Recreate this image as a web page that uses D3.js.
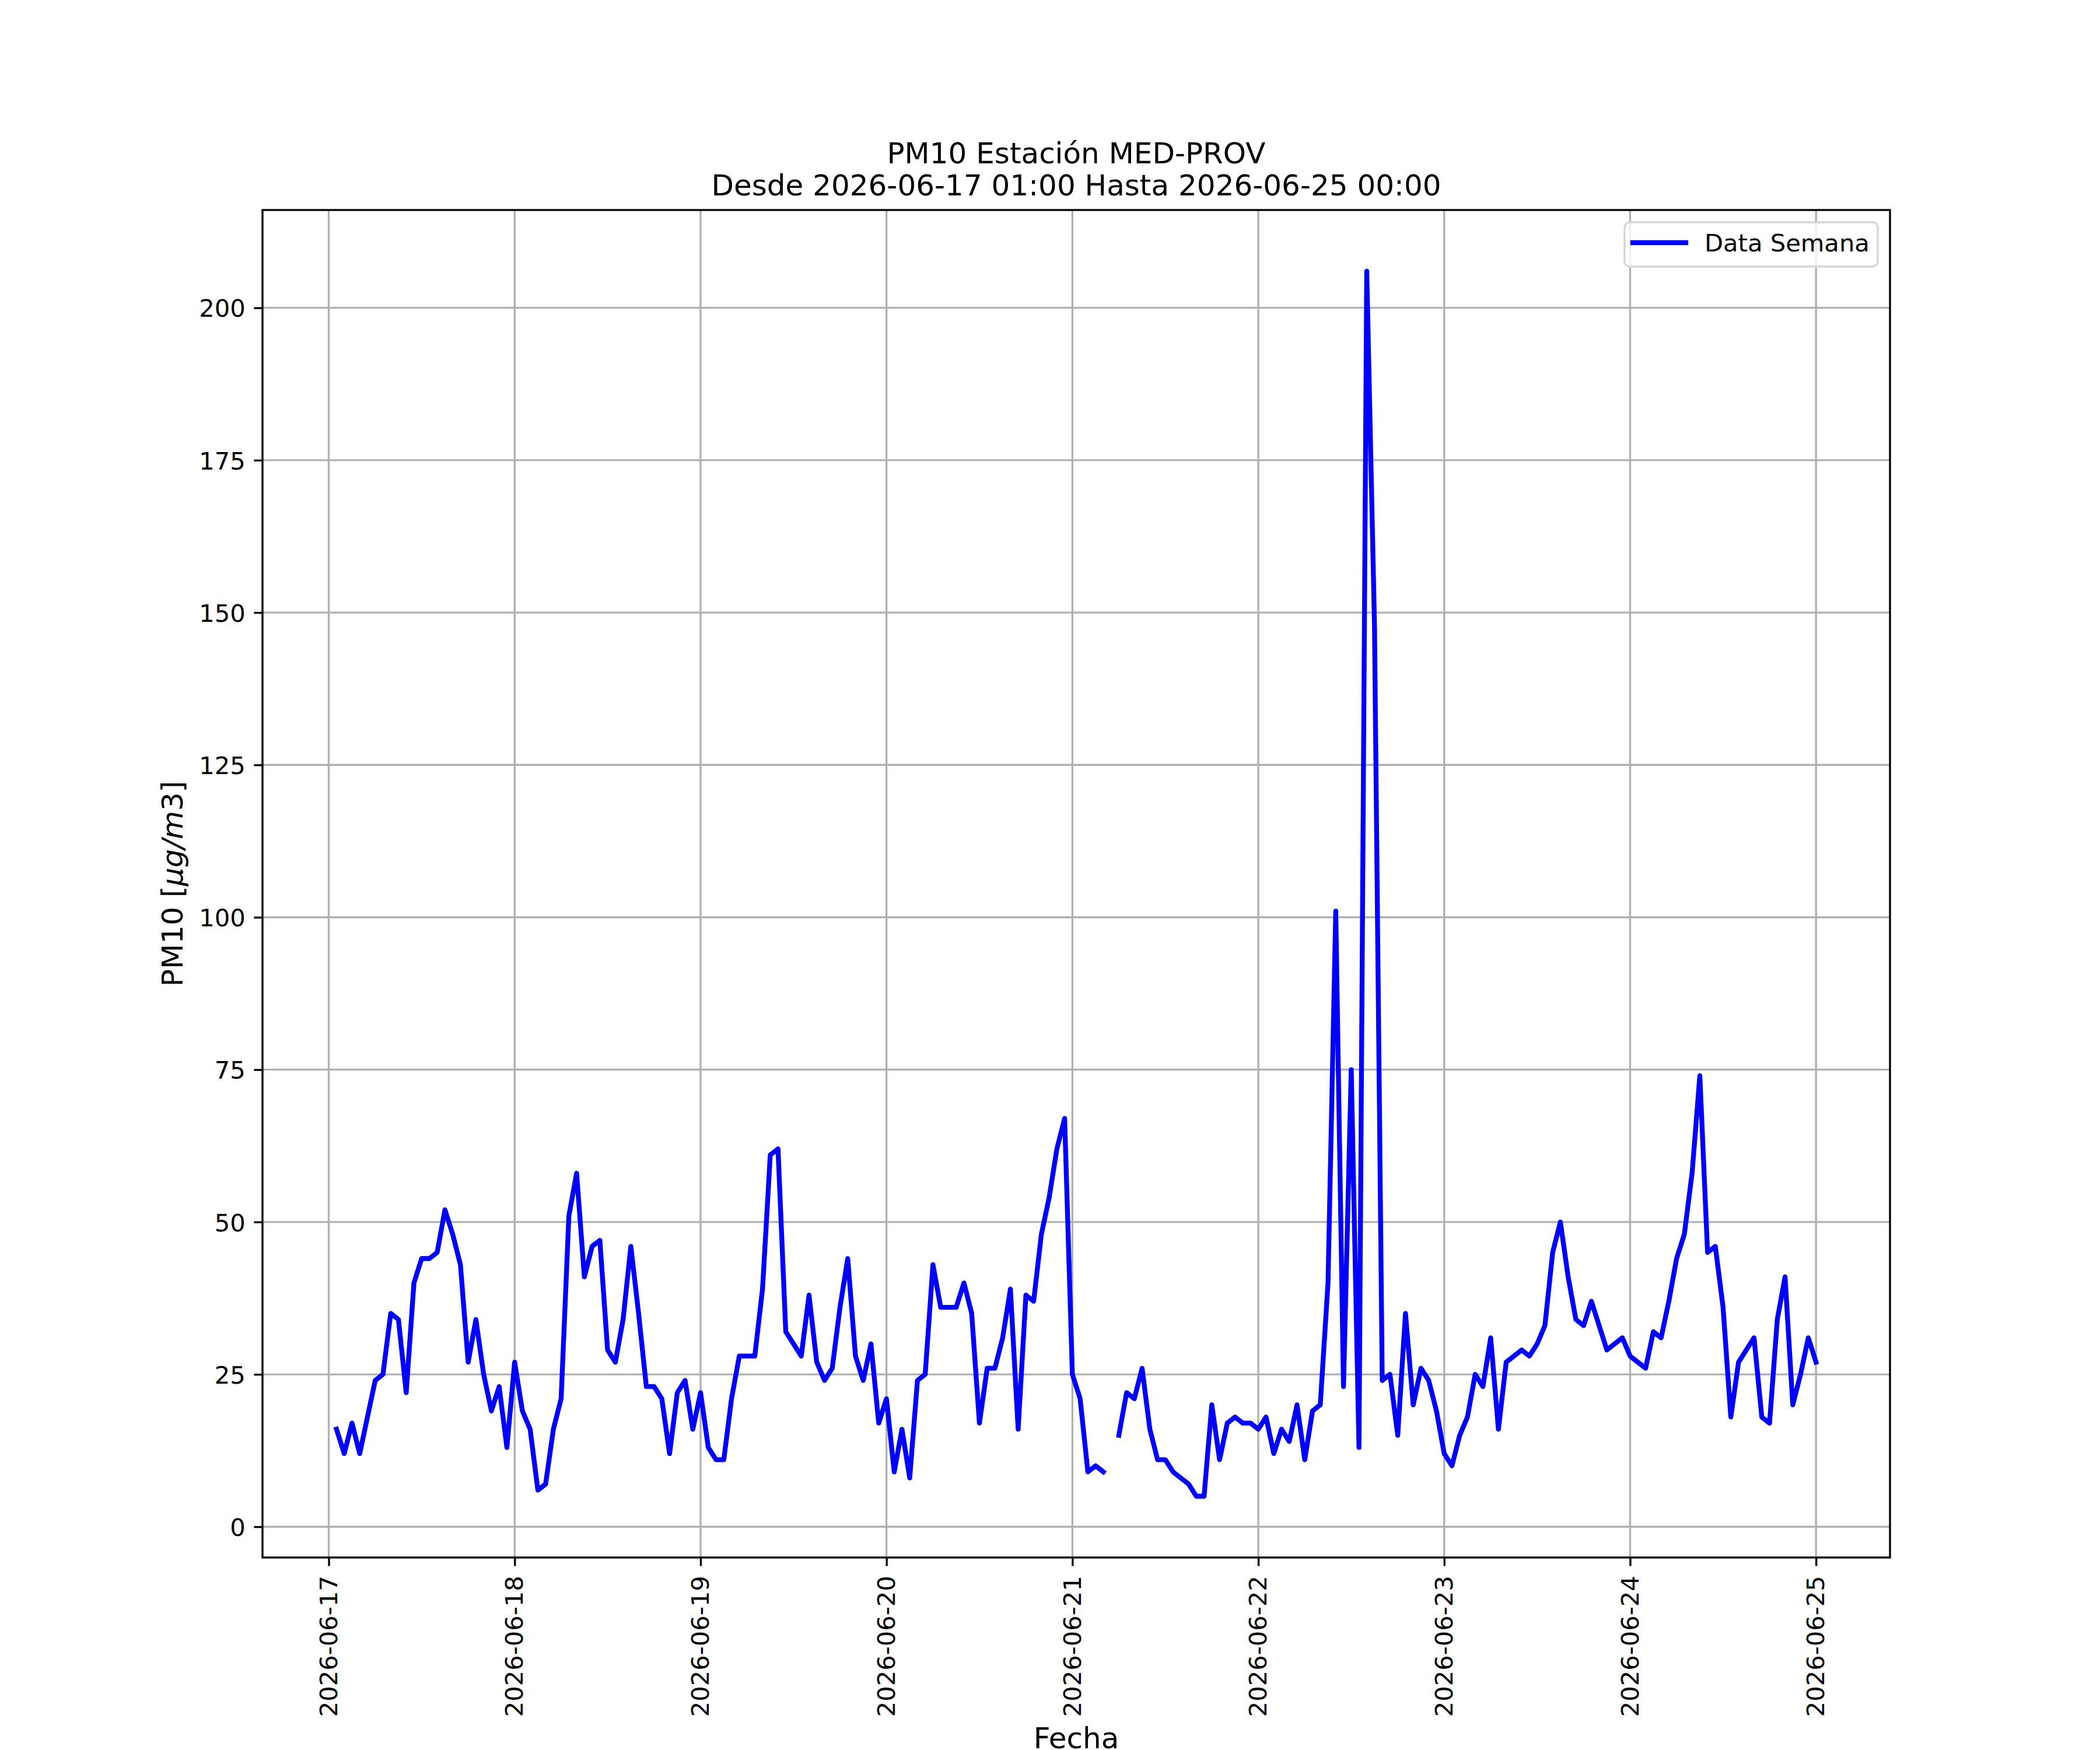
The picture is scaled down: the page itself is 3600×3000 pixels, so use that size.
<!DOCTYPE html>
<html>
<head>
<meta charset="utf-8">
<title>PM10 Estación MED-PROV</title>
<script src="https://cdn.jsdelivr.net/npm/d3@7"></script>
<style>
	body { margin: 0; background: #ffffff; }
	svg { display: block; font-family: "DejaVu Sans", sans-serif; }
</style>
</head>
<body>
<svg id="chart" width="3600" height="3000"></svg>
<script>
/* Hourly PM10 readings, first value at 2026-06-17 01:00, one value per hour.
   null = missing reading (gap in the line). */
var startTime = "2026-06-17T01:00:00Z";
var endTime = "2026-06-25T00:00:00Z";

var day17 = [16, 12, 17, 12, 18, 24, 25, 35, 34, 22, 40, 44, 44, 45, 52, 48, 43, 27, 34, 25, 19, 23, 13, 27];
var day18 = [19, 16, 6, 7, 16, 21, 51, 58, 41, 46, 47, 29, 27, 34, 46, 35, 23, 23, 21, 12, 22, 24, 16, 22];
var day19 = [13, 11, 11, 21, 28, 28, 28, 39, 61, 62, 32, 30, 28, 38, 27, 24, 26, 36, 44, 28, 24, 30, 17, 21];
var day20 = [9, 16, 8, 24, 25, 43, 36, 36, 36, 40, 35, 17, 26, 26, 31, 39, 16, 38, 37, 48, 54, 62, 67, 25];
var day21 = [21, 9, 10, 9, null, 15, 22, 21, 26, 16, 11, 11, 9, 8, 7, 5, 5, 20, 11, 17, 18, 17, 17, 16];
var day22 = [18, 12, 16, 14, 20, 11, 19, 20, 40, 101, 23, 75, 13, 206, 148, 24, 25, 15, 35, 20, 26, 24, 19, 12];
var day23 = [10, 15, 18, 25, 23, 31, 16, 27, 28, 29, 28, 30, 33, 45, 50, 41, 34, 33, 37, 33, 29, 30, 31, 28];
var day24 = [27, 26, 32, 31, 37, 44, 48, 58, 74, 45, 46, 36, 18, 27, 29, 31, 18, 17, 34, 41, 20, 25, 31, 27];

var yTickValues = [0, 25, 50, 75, 100, 125, 150, 175, 200];
var titleLines = ["PM10 Estación MED-PROV", "Desde 2026-06-17 01:00 Hasta 2026-06-25 00:00"];
var xLabel = "Fecha";
var legendLabel = "Data Semana";

// figure geometry (matplotlib defaults at 300 dpi, 12x10 in)
var W = 3600, H = 3000;
var axLeft = 450, axRight = 3240, axTop = 360, axBottom = 2670;
var pt = 300 / 72;
var tickLen = 3.5 * pt, tickPad = 3.5 * pt;
var thin = 0.8 * pt;
var tickFont = 10 * pt, labelFont = 12 * pt;

var values = [].concat(day17, day18, day19, day20, day21, day22, day23, day24);
var t0 = new Date(startTime);
var data = values.map(function(v, i) {
	return { t: d3.utcHour.offset(t0, i), v: v };
});

// 5% margins like matplotlib autoscale
var tStart = t0, tEnd = new Date(endTime);
var tSpan = tEnd - tStart;
var x = d3.scaleUtc()
	.domain([new Date(+tStart - tSpan * 0.05), new Date(+tEnd + tSpan * 0.05)])
	.range([axLeft, axRight]);

var vMin = d3.min(values), vMax = d3.max(values);
var vPad = (vMax - vMin) * 0.05;
var y = d3.scaleLinear()
	.domain([vMin - vPad, vMax + vPad])
	.range([axBottom, axTop]);

var svg = d3.select("#chart");
svg.append("rect").attr("width", W).attr("height", H).attr("fill", "#ffffff");

var xTicks = d3.utcDay.range(d3.utcDay.floor(tStart), d3.utcDay.offset(tEnd, 1));

// grid
var grid = svg.append("g").attr("stroke", "#b0b0b0").attr("stroke-width", thin);
grid.selectAll("line.gx").data(xTicks).enter().append("line")
	.attr("class", "gx")
	.attr("x1", function(d) { return x(d); }).attr("x2", function(d) { return x(d); })
	.attr("y1", axTop).attr("y2", axBottom);
grid.selectAll("line.gy").data(yTickValues).enter().append("line")
	.attr("class", "gy")
	.attr("x1", axLeft).attr("x2", axRight)
	.attr("y1", function(d) { return y(d); }).attr("y2", function(d) { return y(d); });

// data line
var line = d3.line()
	.defined(function(d) { return d.v != null; })
	.x(function(d) { return x(d.t); })
	.y(function(d) { return y(d.v); });

svg.append("defs").append("clipPath").attr("id", "plotclip")
	.append("rect").attr("x", axLeft).attr("y", axTop)
	.attr("width", axRight - axLeft).attr("height", axBottom - axTop);

svg.append("path")
	.datum(data)
	.attr("clip-path", "url(#plotclip)")
	.attr("d", line)
	.attr("fill", "none")
	.attr("stroke", "#0000ff")
	.attr("stroke-width", 2 * pt)
	.attr("stroke-linejoin", "round")
	.attr("stroke-linecap", "square");

// axes
var xAxis = d3.axisBottom(x)
	.tickValues(xTicks)
	.tickFormat(d3.utcFormat("%Y-%m-%d"))
	.tickSize(tickLen)
	.tickPadding(tickPad)
	.tickSizeOuter(0);
var gx = svg.append("g").attr("transform", "translate(0," + axBottom + ")").call(xAxis);
gx.select(".domain").remove();
gx.selectAll(".tick line").attr("stroke", "#000").attr("stroke-width", thin);
gx.selectAll(".tick text")
	.attr("font-family", "DejaVu Sans")
	.attr("font-size", tickFont)
	.attr("fill", "#000")
	.attr("transform", "rotate(-90)")
	.attr("text-anchor", "end")
	.attr("x", -(tickLen + tickPad + 2))
	.attr("y", 0)
	.attr("dy", "0.33em");

var yAxis = d3.axisLeft(y)
	.tickValues(yTickValues)
	.tickSize(tickLen)
	.tickPadding(tickPad)
	.tickSizeOuter(0);
var gy = svg.append("g").attr("transform", "translate(" + axLeft + ",0)").call(yAxis);
gy.select(".domain").remove();
gy.selectAll(".tick line").attr("stroke", "#000").attr("stroke-width", thin);
gy.selectAll(".tick text")
	.attr("font-family", "DejaVu Sans")
	.attr("font-size", tickFont)
	.attr("fill", "#000")
	.attr("dy", "0.365em");

// spines
svg.append("rect")
	.attr("x", axLeft).attr("y", axTop)
	.attr("width", axRight - axLeft).attr("height", axBottom - axTop)
	.attr("fill", "none")
	.attr("stroke", "#000")
	.attr("stroke-width", thin);

// legend
var lg = svg.append("g");
lg.append("rect")
	.attr("x", 2785).attr("y", 381)
	.attr("width", 434).attr("height", 76)
	.attr("rx", 9).attr("ry", 9)
	.attr("fill", "#ffffff").attr("fill-opacity", 0.8)
	.attr("stroke", "#d6d6d6")
	.attr("stroke-width", thin);
lg.append("line")
	.attr("x1", 2799).attr("x2", 2890)
	.attr("y1", 416).attr("y2", 416)
	.attr("stroke", "#0000ff")
	.attr("stroke-width", 2 * pt)
	.attr("stroke-linecap", "square");
lg.append("text")
	.attr("x", 2922).attr("y", 416)
	.attr("dy", "0.365em")
	.attr("font-size", tickFont)
	.text(legendLabel);

// title
var title = svg.append("text")
	.attr("text-anchor", "middle")
	.attr("font-size", labelFont);
title.selectAll("tspan").data(titleLines).enter().append("tspan")
	.attr("x", (axLeft + axRight) / 2)
	.attr("y", function(d, i) { return 280 + i * 55; })
	.text(function(d) { return d; });

// axis labels
svg.append("text")
	.attr("x", (axLeft + axRight) / 2).attr("y", 2997)
	.attr("text-anchor", "middle")
	.attr("font-size", labelFont)
	.text(xLabel);

var yl = svg.append("text")
	.attr("transform", "translate(313," + (axTop + axBottom) / 2 + ") rotate(-90)")
	.attr("text-anchor", "middle")
	.attr("font-size", labelFont);
yl.append("tspan").text("PM10 [");
yl.append("tspan").attr("font-style", "italic").text("μg/m");
yl.append("tspan").text("3]");
</script>
</body>
</html>
